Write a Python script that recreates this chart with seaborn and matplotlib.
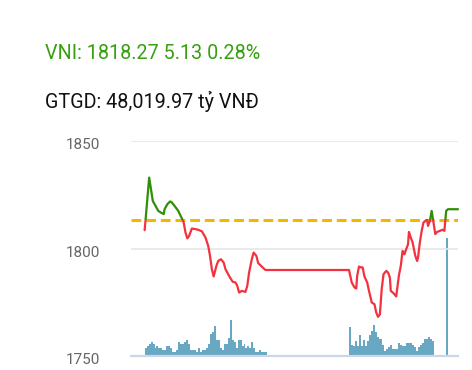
import numpy as np
import pandas as pd
import matplotlib
matplotlib.use("Agg")
import matplotlib.pyplot as plt
import matplotlib.transforms as mtransforms
from matplotlib.patches import Rectangle
import seaborn as sns

# ---------------- data ----------------
title_main = "VNI: 1818.27 5.13 0.28%"
title_sub = "GTGD: 48,019.97 tỷ VNĐ"
reference_price = 1813.14

price_times = ["09:15", "09:16", "09:20", "09:22", "09:24", "09:26", "09:30", "09:33",
               "09:36", "09:37", "09:40", "09:43", "09:45", "09:48", "09:52", "09:56",
               "09:58", "10:00", "10:02", "10:04", "10:07", "10:11", "10:14", "10:18",
               "10:22", "10:25", "10:27", "10:29", "10:31", "10:34", "10:36", "10:39",
               "10:42", "10:44", "10:47", "10:49", "10:52", "10:55", "10:57", "10:59",
               "11:02", "11:06", "11:08", "11:10", "11:13", "11:15", "11:18", "11:20",
               "11:24", "11:28", "11:30", "13:00", "13:03", "13:06", "13:08", "13:09",
               "13:11", "13:13", "13:15", "13:17", "13:20", "13:22", "13:25", "13:28",
               "13:30", "13:32", "13:34", "13:36", "13:38", "13:41", "13:43", "13:45",
               "13:46", "13:49", "13:52", "13:53", "13:55", "13:57", "13:59", "14:01",
               "14:03", "14:05", "14:06", "14:08", "14:10", "14:13", "14:15", "14:16",
               "14:18", "14:20", "14:22", "14:24", "14:26", "14:27", "14:29", "14:31",
               "14:33", "14:35", "14:37", "14:40", "14:43", "14:45", "14:47", "14:49",
               "15:00"]
price_values = [1808.5, 1813.1, 1833.0, 1827.6, 1822.1, 1820.6, 1817.5, 1816.7,
                1816.0, 1818.3, 1820.6, 1821.9, 1821.4, 1819.8, 1817.5, 1814.0,
                1812.1, 1807.4, 1804.7, 1805.9, 1809.3, 1809.0, 1808.7, 1808.0,
                1805.1, 1801.2, 1796.6, 1790.4, 1787.0, 1791.9, 1794.2, 1795.0,
                1793.5, 1790.4, 1788.0, 1786.5, 1784.5, 1784.2, 1782.6, 1779.5,
                1780.3, 1779.8, 1782.6, 1788.8, 1795.0, 1798.1, 1796.6, 1793.2,
                1791.6, 1790.0, 1790.0, 1790.0, 1784.2, 1781.9, 1781.4, 1787.3,
                1791.6, 1791.2, 1791.2, 1787.0, 1784.2, 1780.3, 1774.9, 1774.1,
                1770.2, 1768.2, 1769.4, 1781.1, 1788.0, 1789.6, 1788.8, 1786.5,
                1780.3, 1779.2, 1777.7, 1781.1, 1787.6, 1791.9, 1798.9, 1797.3,
                1799.7, 1802.0, 1807.7, 1805.1, 1802.8, 1796.6, 1794.2, 1795.8,
                1802.8, 1808.2, 1812.1, 1812.8, 1813.3, 1810.5, 1812.8, 1817.5,
                1812.1, 1806.7, 1807.7, 1808.2, 1808.7, 1808.2, 1817.5, 1818.27,
                1818.27]

# volume bars (relative units)
vol_morning = [8, 10, 12, 14, 12, 8, 10, 8, 8, 6, 6, 10, 10, 8, 4, 4, 6, 14, 12, 12,
               14, 16, 12, 6, 6, 6, 4, 8, 4, 6, 6, 8, 12, 22, 24, 30, 16, 16, 8, 6,
               12, 12, 18, 36, 16, 14, 8, 16, 16, 10, 12, 8, 10, 8, 14, 8, 4, 4, 6, 4,
               4, 4]
vol_afternoon = [29, 11, 10, 15, 10, 21, 10, 16, 10, 15, 21, 25, 31, 24, 19, 17, 11, 5,
                 7, 9, 11, 7, 7, 7, 13, 11, 10, 10, 13, 13, 13, 11, 9, 5, 9, 11, 13, 17,
                 17, 19, 17, 15]
vol_atc = [118]
session_morning = ("09:15", "11:30")
session_afternoon = ("13:00", "14:34")
atc_time = "14:48"

y_ticks = [1750, 1800, 1850]

# ---------------- helpers ----------------
def to_min(t):
    h, m = t.split(":")
    return (int(h) - 9) * 60 + int(m)

GREEN = "#2f8f06"
GREEN_TXT = "#38a010"
RED = "#f2323f"
YELLOW = "#f4b700"
BAR = "#68a8c3"
GRID = "#e6e6e6"
AXIS = "#ccd6eb"

sns.set_theme(style="white")
plt.rcParams["font.family"] = ["Roboto", "DejaVu Sans"]

W, H = 472, 370
fig = plt.figure(figsize=(W / 100, H / 100), dpi=100)
left, right, top, bottom = 131, 458, 141, 356
ax = fig.add_axes([left / W, (H - bottom) / H, (right - left) / W, (bottom - top) / H])

xmin, xmax = 0, 360

# volume on twin axis
axv = ax.twinx()
axv.set_zorder(0)
ax.set_zorder(1)
ax.patch.set_visible(False)

m0, m1 = to_min(session_morning[0]), to_min(session_morning[1])
a0, a1 = to_min(session_afternoon[0]), to_min(session_afternoon[1])
edges_m = np.linspace(m0, m1, len(vol_morning) + 1)
edges_a = np.linspace(a0, a1, len(vol_afternoon) + 1)
tatc = to_min(atc_time)

df_m = pd.DataFrame({"t": (edges_m[:-1] + edges_m[1:]) / 2, "vol": vol_morning})
df_a = pd.DataFrame({"t": (edges_a[:-1] + edges_a[1:]) / 2, "vol": vol_afternoon})
df_c = pd.DataFrame({"t": [float(tatc)], "vol": vol_atc})

sns.histplot(data=df_m, x="t", weights="vol", bins=edges_m.tolist(), ax=axv,
             color=BAR, alpha=1, linewidth=0, element="bars")
sns.histplot(data=df_a, x="t", weights="vol", bins=edges_a.tolist(), ax=axv,
             color=BAR, alpha=1, linewidth=0, element="bars")
sns.histplot(data=df_c, x="t", weights="vol", bins=[tatc - 0.9, tatc + 0.9], ax=axv,
             color=BAR, alpha=1, linewidth=0, element="bars")
axv.set_ylim(0, bottom - top)
axv.set_yticks([])
axv.set_ylabel("")
for s in axv.spines.values():
    s.set_visible(False)

# price line
df = pd.DataFrame({"t": [to_min(t) for t in price_times], "price": price_values})
ax.axhline(reference_price, color=YELLOW, lw=2.2, dashes=(3.2, 1.6), zorder=2)

sns.lineplot(data=df, x="t", y="price", ax=ax, color=GREEN, lw=1.6, zorder=3)
green_line = ax.lines[-1]
sns.lineplot(data=df, x="t", y="price", ax=ax, color=RED, lw=1.6, zorder=3)
red_line = ax.lines[-1]

clip_up = Rectangle((xmin - 10, reference_price), xmax + 20, 500, transform=ax.transData)
clip_dn = Rectangle((xmin - 10, reference_price - 500), xmax + 20, 500, transform=ax.transData)
green_line.set_clip_path(clip_up)
red_line.set_clip_path(clip_dn)

ax.set_xlim(xmin, xmax)
axv.set_xlim(xmin, xmax)
ax.set_ylim(1750, 1850)
ax.set_yticks(y_ticks)
ax.set_yticklabels([str(v) for v in y_ticks])
ax.set_xticks([])
ax.set_xlabel("")
ax.set_ylabel("")
ax.grid(axis="y", color=GRID, lw=1.2)
ax.tick_params(axis="y", length=0, pad=22, labelsize=11, labelcolor="#666666")
for lbl in ax.get_yticklabels():
    lbl.set_transform(lbl.get_transform() + mtransforms.ScaledTranslation(0, -3 / 100, fig.dpi_scale_trans))
for name, s in ax.spines.items():
    s.set_visible(False)
ax.spines["bottom"].set_visible(True)
ax.spines["bottom"].set_color(AXIS)
ax.spines["bottom"].set_linewidth(1.6)

fig.text(45 / W, (H - 59) / H, title_main, color=GREEN_TXT, fontsize=14.2,
         ha="left", va="baseline")
fig.text(45 / W, (H - 108) / H, title_sub, color="#111111", fontsize=14.2,
         ha="left", va="baseline")

fig.savefig("out.png", dpi=100, facecolor="white")
